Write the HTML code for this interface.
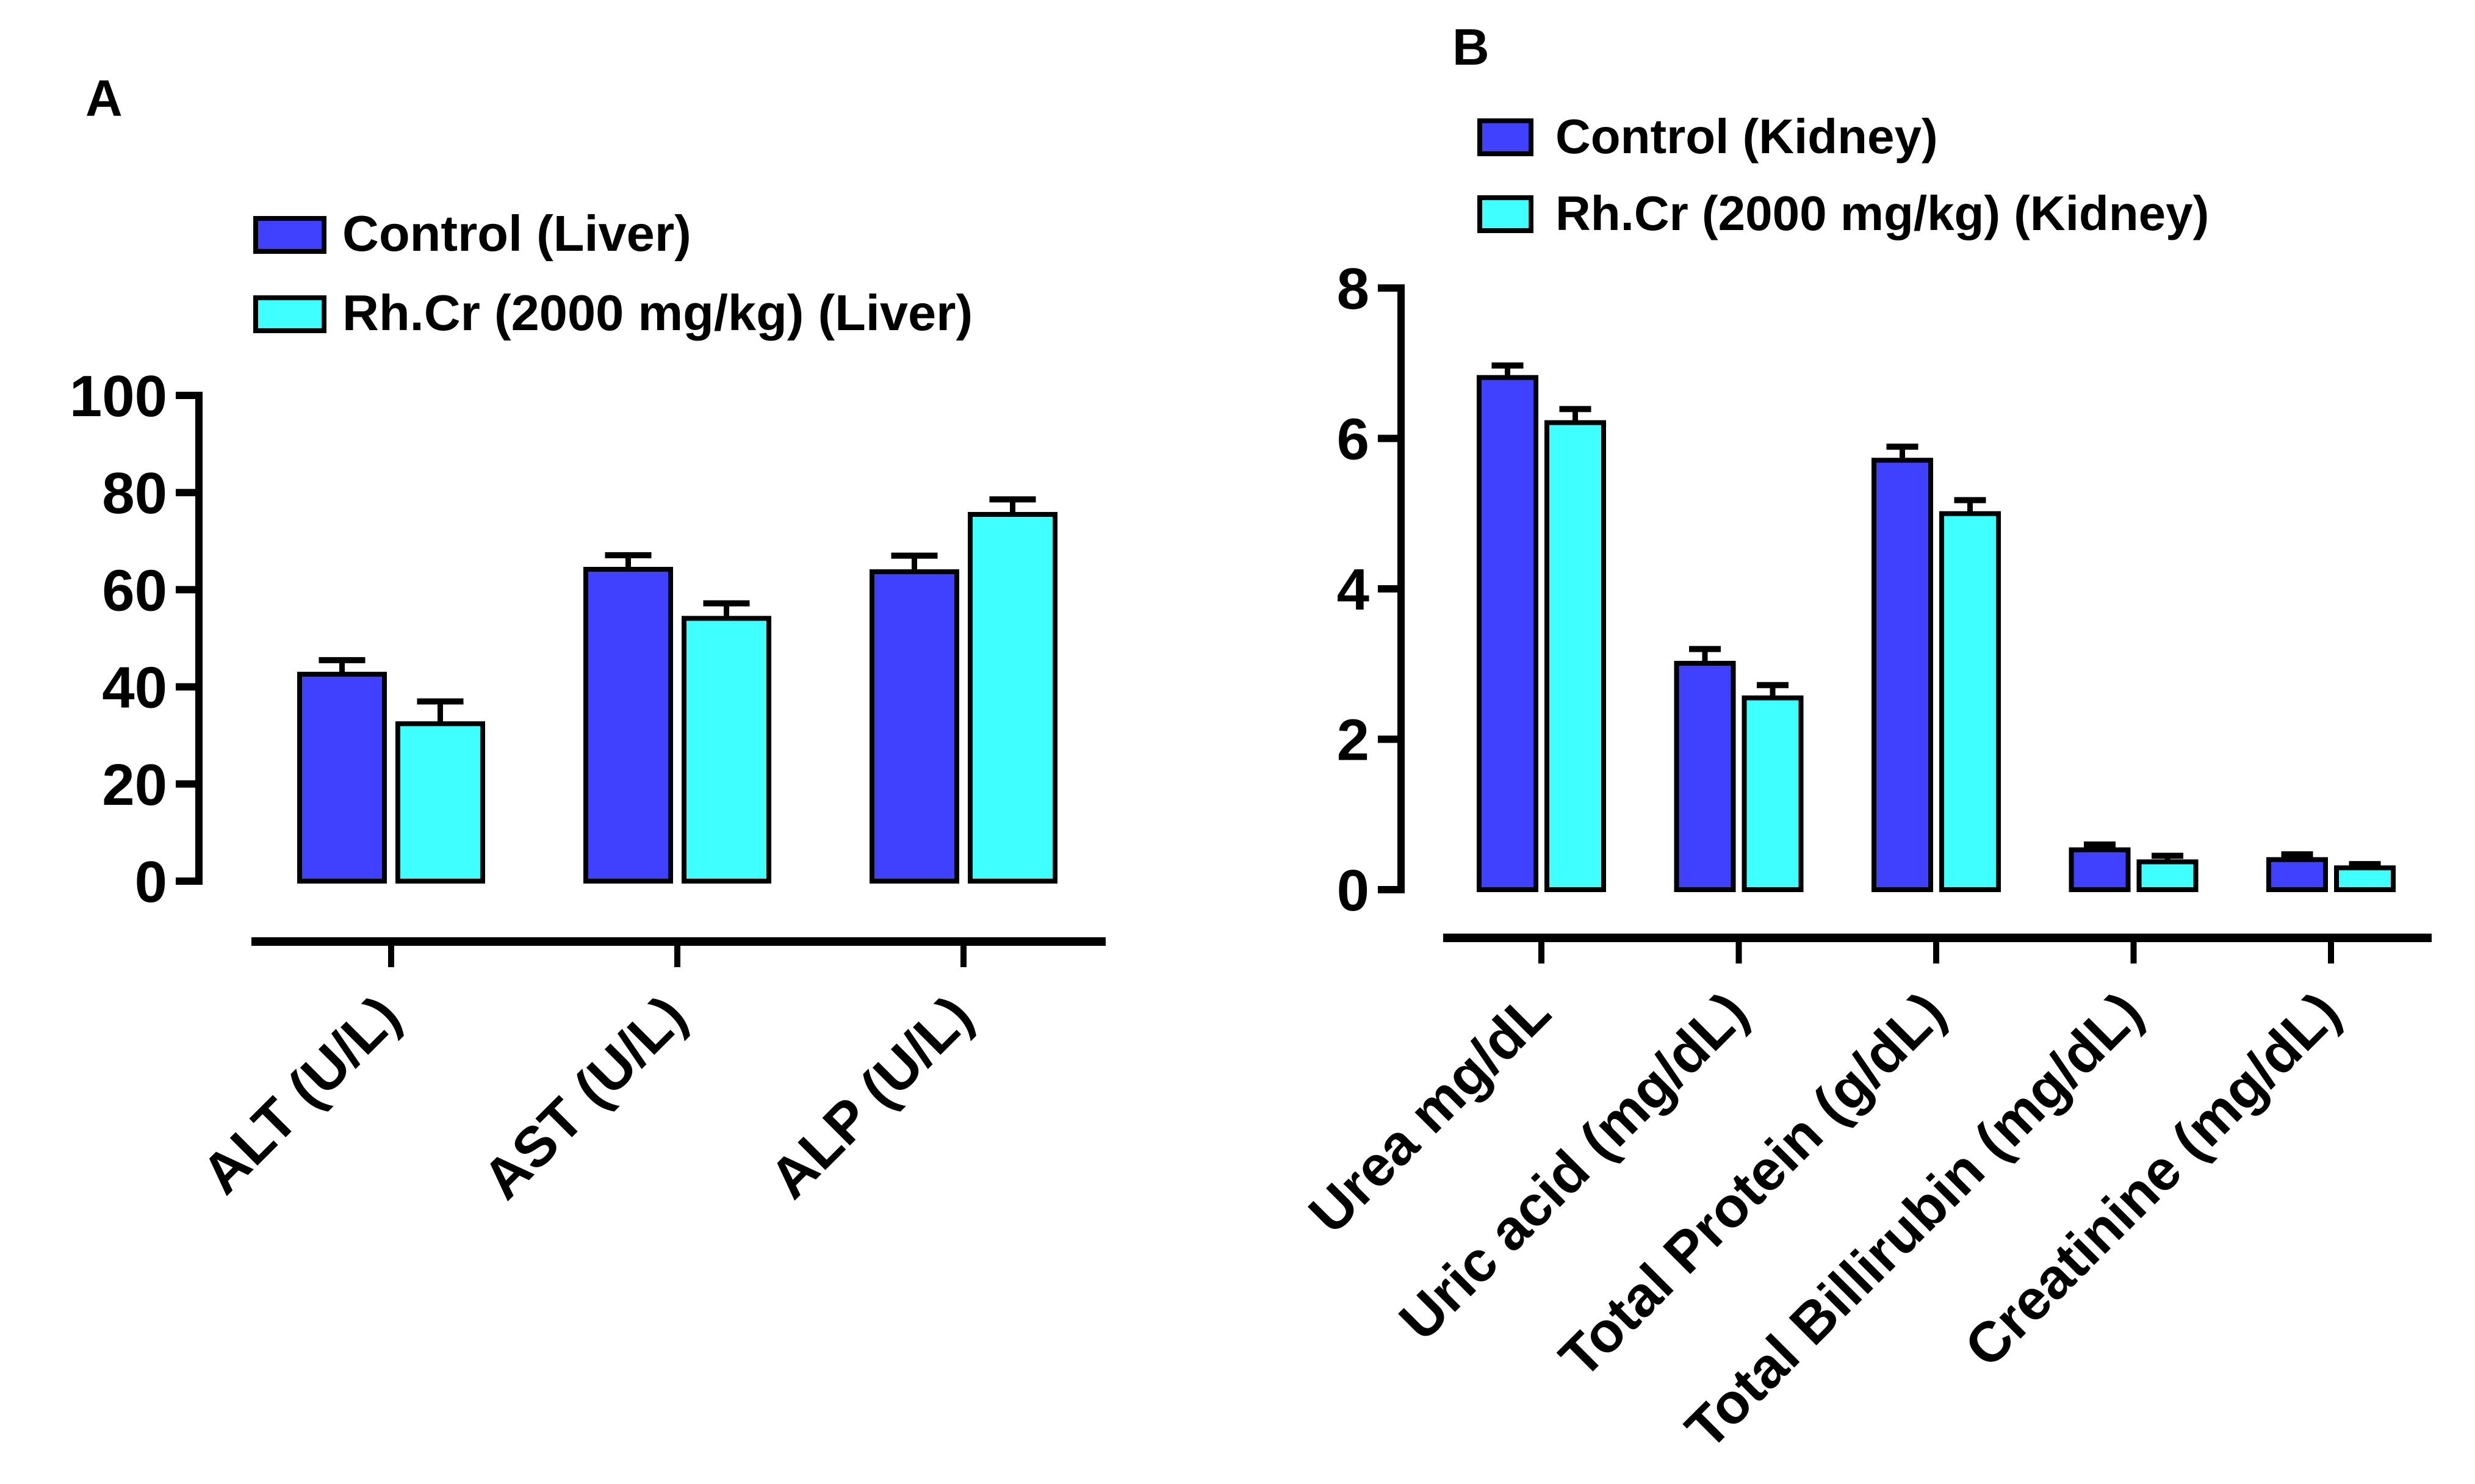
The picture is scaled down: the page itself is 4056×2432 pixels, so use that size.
<!DOCTYPE html>
<html><head><meta charset="utf-8"><style>
html,body{margin:0;padding:0;background:#fff;}
svg{display:block;font-family:"Liberation Sans",Arial,sans-serif;font-weight:bold;}
</style></head><body>
<svg id="fig" width="4056" height="2432" viewBox="0 0 4056 2432" xmlns="http://www.w3.org/2000/svg">
<rect width="4056" height="2432" fill="#fff"/>
<text x="140" y="190" font-size="84">A</text>
<text x="2380" y="106" font-size="84">B</text>
<g id="panelA"></g>
<g id="panelB"></g>
</svg>
<script>
const catsA = ["ALT (U/L)", "AST (U/L)", "ALP (U/L)"];
const ctrlA = [42.6, 64.2, 63.7];
const ctrlErrA = [2.9, 2.9, 3.3];
const rhA = [32.4, 54.1, 75.5];
const rhErrA = [4.6, 3.1, 3.1];
const ticksA = [0, 20, 40, 60, 80, 100];

const catsB = ["Urea mg/dL", "Uric acid (mg/dL)", "Total Protein (g/dL)", "Total Billirubin (mg/dL)", "Creatinine (mg/dL)"];
const ctrlB = [6.81, 3.01, 5.71, 0.53, 0.40];
const ctrlErrB = [0.16, 0.19, 0.18, 0.07, 0.07];
const rhB = [6.21, 2.55, 5.00, 0.37, 0.29];
const rhErrB = [0.18, 0.17, 0.18, 0.08, 0.05];
const ticksB = [0, 2, 4, 6, 8];

const NS = "http://www.w3.org/2000/svg";
function mk(parent, tag, attrs, txt){
  const e = document.createElementNS(NS, tag);
  for (const k in attrs) e.setAttribute(k, attrs[k]);
  if (txt !== undefined) e.textContent = txt;
  parent.appendChild(e);
  return e;
}
const BLUE = "#4040ff", CYAN = "#40ffff";

function drawPanel(g, cfg){
  const yScale = v => cfg.y0 - (v - cfg.min) / (cfg.max - cfg.min) * (cfg.y0 - cfg.yTop);
  const xCenter = i => cfg.xFirst + i * cfg.step;
  const ya = mk(g, "line", {x1: cfg.yAxisX, x2: cfg.yAxisX, y1: yScale(cfg.max) - 6, y2: yScale(cfg.min) + 6, stroke: "#000", "stroke-width": 12});
  
  
  cfg.ticks.forEach(t => {
    const tl = mk(g, "line", {x1: cfg.yAxisX - 38, x2: cfg.yAxisX, y1: yScale(t), y2: yScale(t), stroke: "#000", "stroke-width": 12});
    
    
    const tx = mk(g, "text", {x: cfg.yAxisX - 52, y: yScale(t) + 34, "font-size": 96, "text-anchor": "end"}, String(t));
    
    
  });
  const xa = mk(g, "line", {x1: cfg.xAxisStart, x2: cfg.xAxisEnd, y1: cfg.xAxisY, y2: cfg.xAxisY, stroke: "#000", "stroke-width": 14});
  
  
  cfg.cats.forEach((c, i) => {
    const cx = xCenter(i);
    const xt = mk(g, "line", {x1: cx, x2: cx, y1: cfg.xAxisY, y2: cfg.xAxisY + 42, stroke: "#000", "stroke-width": 10});
    
    
    const lx = cx + 20, ly = cfg.xAxisY + 128;
    const lab = mk(g, "text", {x: lx, y: ly, "font-size": 93, "text-anchor": "end", transform: `rotate(-45 ${lx} ${ly})`}, c);
    
    
    const series = [[cfg.ctrl, cfg.ctrlErr, BLUE, -1], [cfg.rh, cfg.rhErr, CYAN, 1]];
    series.forEach(([vals, errs, col, side]) => {
      const v = vals[i], e = errs[i];
      const bx = side < 0 ? cx - cfg.gap / 2 - cfg.bw : cx + cfg.gap / 2;
      const top = yScale(v), bot = yScale(0);
      const ebTop = yScale(v + e);
      const el = mk(g, "line", {x1: bx + cfg.bw / 2, x2: bx + cfg.bw / 2, y1: top, y2: ebTop, stroke: "#000", "stroke-width": 9});
      
      
      const ec = mk(g, "line", {x1: bx + cfg.bw / 2 - cfg.cap, x2: bx + cfg.bw / 2 + cfg.cap, y1: ebTop, y2: ebTop, stroke: "#000", "stroke-width": 10});
      
      
      const r = mk(g, "rect", {x: bx, y: top, width: cfg.bw, height: bot - top, fill: col, stroke: "#000", "stroke-width": 8});
      
      
    });
  });
  cfg.legend.forEach((L, k) => {
    const ly = cfg.legY + k * cfg.legStep;
    const sq = mk(g, "rect", {x: cfg.legX, y: ly, width: cfg.legW, height: 54, fill: L[1], stroke: "#000", "stroke-width": 8});
    
    
    const t = mk(g, "text", {x: cfg.legX + cfg.legW + cfg.legGap, y: ly + 53, "font-size": cfg.legFont}, L[0]);
    
    
  });
}

drawPanel(document.getElementById("panelA"), {
  cats: catsA, ctrl: ctrlA, ctrlErr: ctrlErrA, rh: rhA, rhErr: rhErrA, ticks: ticksA,
  min: 0, max: 100, y0: 1444, yTop: 648, yAxisX: 326,
  xAxisY: 1543, xAxisStart: 412, xAxisEnd: 1812,
  xFirst: 641, step: 469, bw: 139, gap: 22, cap: 38,
  legend: [["Control (Liver)", BLUE], ["Rh.Cr (2000 mg/kg) (Liver)", CYAN]],
  legX: 419, legY: 358, legStep: 130, legW: 112, legGap: 30, legFont: 83
});
drawPanel(document.getElementById("panelB"), {
  cats: catsB, ctrl: ctrlB, ctrlErr: ctrlErrB, rh: rhB, rhErr: rhErrB, ticks: ticksB,
  min: 0, max: 8, y0: 1458, yTop: 472, yAxisX: 2296,
  xAxisY: 1537, xAxisStart: 2365, xAxisEnd: 3985,
  xFirst: 2526, step: 323.5, bw: 93, gap: 18, cap: 26,
  legend: [["Control (Kidney)", BLUE], ["Rh.Cr (2000 mg/kg) (Kidney)", CYAN]],
  legX: 2425, legY: 198, legStep: 126, legW: 84, legGap: 40, legFont: 80
});
</script>
</body></html>
